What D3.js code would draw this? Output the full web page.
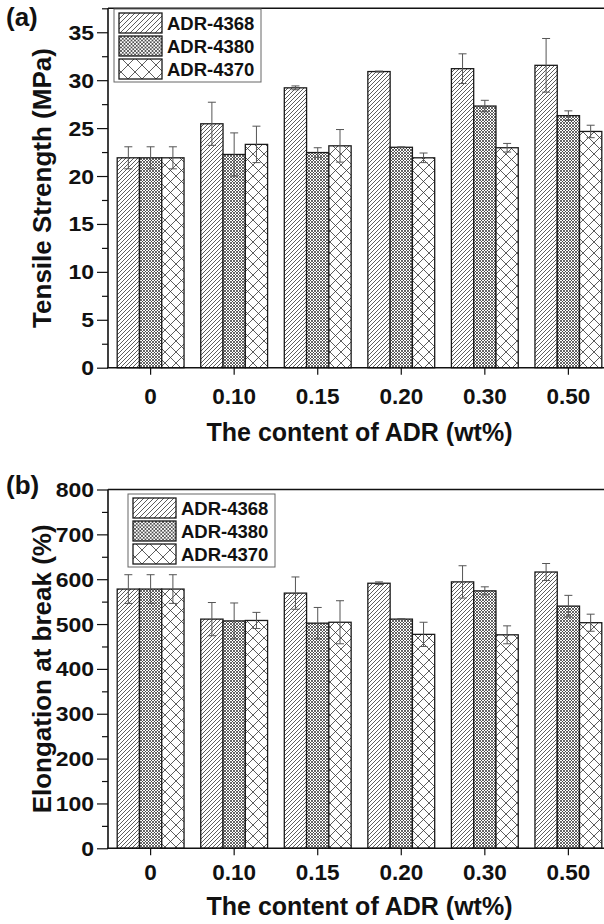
<!DOCTYPE html>
<html>
<head>
<meta charset="utf-8">
<script src="https://cdn.jsdelivr.net/npm/d3@7"></script>
<style>
  html, body { margin: 0; padding: 0; background: #fff; }
  svg text { font-family: "Liberation Sans", Arial, sans-serif; font-weight: bold; fill: #111; }
</style>
</head>
<body>
<div id="chart"></div>
<script>
// categories and series
const categories = ["0", "0.10", "0.15", "0.20", "0.30", "0.50"];
const seriesNames = ["ADR-4368", "ADR-4380", "ADR-4370"];

// (a) tensile strength, MPa
const tensile4368 = [21.9, 25.45, 29.2, 30.9, 31.2, 31.55];
const tensile4368Err = [1.15, 2.25, 0.2, 0.05, 1.55, 2.8];
const tensile4380 = [21.9, 22.25, 22.45, 23.0, 27.3, 26.3];
const tensile4380Err = [1.15, 2.25, 0.5, 0.05, 0.6, 0.5];
const tensile4370 = [21.9, 23.3, 23.15, 21.9, 22.95, 24.65];
const tensile4370Err = [1.15, 1.9, 1.7, 0.5, 0.45, 0.65];
const tensileTicks = [0, 5, 10, 15, 20, 25, 30, 35];

// (b) elongation at break, %
const elong4368 = [578, 511, 569, 591, 594, 616];
const elong4368Err = [32, 37, 36, 3, 36, 19];
const elong4380 = [578, 507, 502, 511, 574, 540];
const elong4380Err = [32, 40, 35, 1, 9, 24];
const elong4370 = [578, 508, 504, 477, 476, 503];
const elong4370Err = [32, 18, 48, 27, 20, 19];
const elongTicks = [0, 100, 200, 300, 400, 500, 600, 700, 800];

const W = 604, H = 924;
const svg = d3.select("#chart").append("svg")
    .attr("width", W)
    .attr("height", H);

// hatch patterns (small for bars, bigger for legend)
const defs = svg.append("defs");
function addPatterns(suffix, sDiag, sFine, sCross) {
    let p = defs.append("pattern").attr("id", "diag" + suffix)
        .attr("patternUnits", "userSpaceOnUse").attr("width", sDiag).attr("height", sDiag);
    p.append("rect").attr("width", sDiag).attr("height", sDiag).attr("fill", "#fff");
    p.append("path")
        .attr("d", `M-1,1 L1,-1 M0,${sDiag} L${sDiag},0 M${sDiag - 1},${sDiag + 1} L${sDiag + 1},${sDiag - 1}`)
        .attr("stroke", "#333").attr("stroke-width", 0.8);

    p = defs.append("pattern").attr("id", "fine" + suffix)
        .attr("patternUnits", "userSpaceOnUse").attr("width", sFine).attr("height", sFine);
    p.append("rect").attr("width", sFine).attr("height", sFine).attr("fill", "#fff");
    p.append("path")
        .attr("d", `M0,0 L${sFine},${sFine} M0,${sFine} L${sFine},0`)
        .attr("stroke", "#333").attr("stroke-width", 0.75);

    p = defs.append("pattern").attr("id", "cross" + suffix)
        .attr("patternUnits", "userSpaceOnUse").attr("width", sCross).attr("height", sCross);
    p.append("rect").attr("width", sCross).attr("height", sCross).attr("fill", "#fff");
    p.append("path")
        .attr("d", `M0,0 L${sCross},${sCross} M0,${sCross} L${sCross},0`)
        .attr("stroke", "#333").attr("stroke-width", 0.8);
}
addPatterns("", 4, 3, 11);
addPatterns("L", 5, 3.5, 14);
const fills = ["diag", "fine", "cross"];

function drawPanel(o) {
    const left = 108, right = 611;
    const g = svg.append("g");

    const x0 = d3.scaleBand().domain(categories).range([left, right])
        .paddingInner(0.2).paddingOuter(0.11);
    const x1 = d3.scaleBand().domain(seriesNames).range([0, x0.bandwidth()]);
    const y = d3.scaleLinear().domain(o.domain).range([o.bottom, o.top]);

    // bars
    const rows = [];
    categories.forEach((c, i) => {
        seriesNames.forEach((s, k) => {
            rows.push({ cat: c, ser: s, k: k, v: o.values[k][i], e: o.errors[k][i] });
        });
    });

    g.selectAll("rect.bar").data(rows).join("rect")
        .attr("class", "bar")
        .attr("x", d => x0(d.cat) + x1(d.ser))
        .attr("y", d => y(d.v))
        .attr("width", x1.bandwidth())
        .attr("height", d => y(0) - y(d.v))
        .attr("fill", d => `url(#${fills[d.k]})`)
        .attr("stroke", "#1a1a1a")
        .attr("stroke-width", 1.3);

    // error bars
    const eb = g.selectAll("g.err").data(rows).join("g")
        .attr("class", "err")
        .attr("transform", d => `translate(${x0(d.cat) + x1(d.ser) + x1.bandwidth() / 2},0)`)
        .attr("stroke", "#555").attr("stroke-width", 1);
    eb.append("line")
        .attr("y1", d => y(d.v + d.e)).attr("y2", d => y(d.v - d.e));
    eb.append("line")
        .attr("x1", -4).attr("x2", 4)
        .attr("y1", d => y(d.v + d.e)).attr("y2", d => y(d.v + d.e));
    eb.append("line")
        .attr("x1", -4).attr("x2", 4)
        .attr("y1", d => y(d.v - d.e)).attr("y2", d => y(d.v - d.e));

    // y axis: major + minor ticks
    const step = o.ticks[1] - o.ticks[0];
    const minor = o.ticks.slice(0, -1).map(t => t + step / 2)
        .concat(o.domain[1] > o.ticks[o.ticks.length - 1] + step / 2 - 1e-9 ? [o.ticks[o.ticks.length - 1] + step / 2] : []);
    g.append("g")
        .attr("transform", `translate(${left},0)`)
        .call(d3.axisLeft(y).tickValues(minor).tickSize(6).tickFormat(""))
        .call(a => a.select(".domain").remove())
        .selectAll("line").attr("stroke", "#111").attr("stroke-width", 1.2);
    const gy = g.append("g")
        .attr("transform", `translate(${left},0)`)
        .call(d3.axisLeft(y).tickValues(o.ticks).tickSize(11).tickPadding(3));
    gy.select(".domain").remove();
    gy.selectAll("line").attr("stroke", "#111").attr("stroke-width", 1.2);
    // labels in the reference are a little wider than plain Arial
    gy.selectAll("text")
        .style("font-size", "19.5px")
        .attr("x", -14 / 1.18)
        .attr("transform", "scale(1.18,1)")
        .attr("dy", "0.36em");

    // x axis
    const gx = g.append("g")
        .attr("transform", `translate(0,${o.bottom})`)
        .call(d3.axisBottom(x0).tickSize(7).tickPadding(4));
    gx.select(".domain").remove();
    gx.selectAll("line").attr("stroke", "#111").attr("stroke-width", 1.2);
    gx.selectAll("text")
        .style("font-size", "22.5px")
        .attr("y", o.tickBase).attr("dy", 0);

    // frame
    g.append("path")
        .attr("d", `M${left},${o.top} H${right} V${o.bottom} H${left - 1} M${left},${o.top} V${o.bottom}`)
        .attr("fill", "none")
        .attr("stroke", "#111")
        .attr("stroke-width", 1.6);

    // axis titles
    g.append("text")
        .attr("x", (left + right) / 2)
        .attr("y", o.bottom + o.titleBase)
        .attr("text-anchor", "middle")
        .style("font-size", "25px")
        .text("The content of ADR (wt%)");
    g.append("text")
        .attr("transform", `translate(51,${(o.top + o.bottom) / 2}) rotate(-90)`)
        .attr("text-anchor", "middle")
        .style("font-size", "26px")
        .text(o.yTitle);

    // panel label
    g.append("text")
        .attr("x", 6).attr("y", o.labelY)
        .style("font-size", "26px")
        .text(o.label);

    // legend
    const lg = g.append("g").attr("transform", `translate(${o.legX},${o.legY})`);
    lg.append("rect")
        .attr("width", 147).attr("height", 73)
        .attr("fill", "#fff")
        .attr("stroke", "#666").attr("stroke-width", 1);
    seriesNames.forEach((s, k) => {
        lg.append("rect")
            .attr("x", 5).attr("y", 4 + k * 23)
            .attr("width", 43).attr("height", 20)
            .attr("fill", `url(#${fills[k]}L)`)
            .attr("stroke", "#1a1a1a").attr("stroke-width", 1.3);
        lg.append("text")
            .attr("x", 53).attr("y", 4 + k * 23 + 17)
            .style("font-size", "18.5px")
            .text(s);
    });
}

drawPanel({
    top: 8.3, bottom: 367.7, domain: [0, 37.5], ticks: tensileTicks,
    values: [tensile4368, tensile4380, tensile4370],
    errors: [tensile4368Err, tensile4380Err, tensile4370Err],
    yTitle: "Tensile Strength (MPa)", label: "(a)", labelY: 26,
    tickBase: 36, titleBase: 73,
    legX: 114, legY: 9
});

drawPanel({
    top: 489.5, bottom: 848.3, domain: [0, 800], ticks: elongTicks,
    values: [elong4368, elong4380, elong4370],
    errors: [elong4368Err, elong4380Err, elong4370Err],
    yTitle: "Elongation at break (%)", label: "(b)", labelY: 494,
    tickBase: 32, titleBase: 67,
    legX: 128, legY: 494
});
</script>
</body>
</html>
